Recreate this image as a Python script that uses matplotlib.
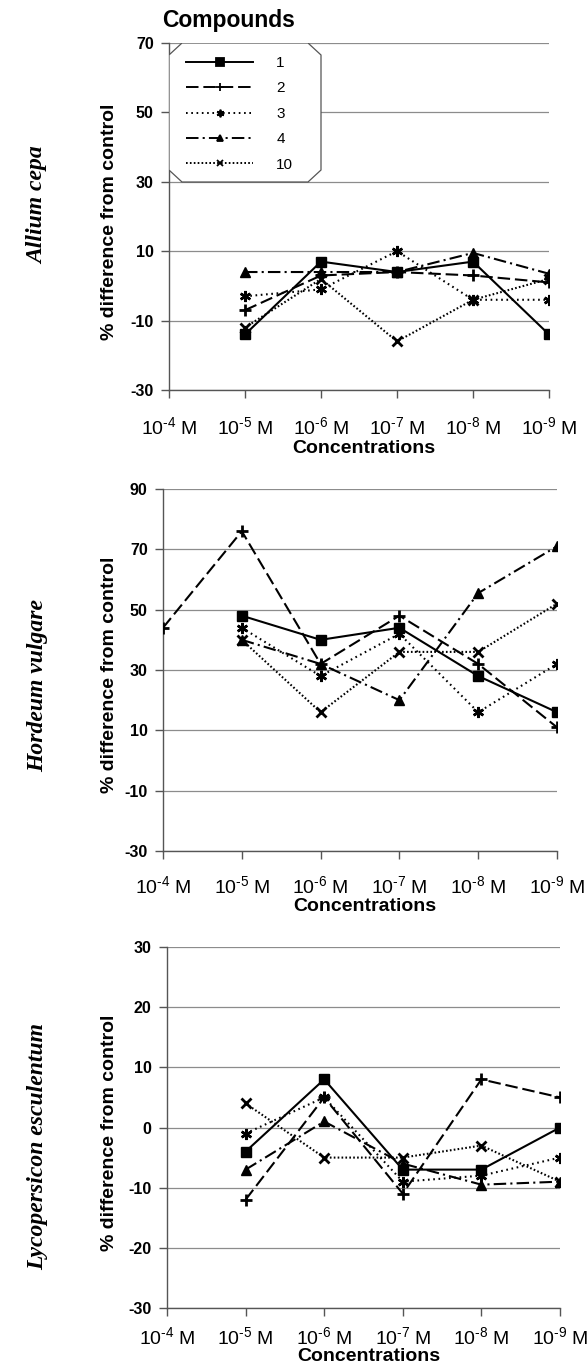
import matplotlib
matplotlib.use('Agg')
import matplotlib.pyplot as plt
from matplotlib.lines import Line2D
from matplotlib.patches import Polygon
import numpy as np

plt.rcParams['font.family'] = ['Liberation Sans', 'DejaVu Sans']
plt.rcParams['mathtext.fontset'] = 'custom'
plt.rcParams['mathtext.rm'] = 'Liberation Sans'
plt.rcParams['mathtext.it'] = 'Liberation Sans:italic'
plt.rcParams['mathtext.bf'] = 'Liberation Sans:bold'
plt.rcParams['axes.unicode_minus'] = False
plt.rcParams['lines.scale_dashes'] = False

nan = np.nan

# x axis categories
concentrations = ['10$^{\\text{-4}}$ M', '10$^{\\text{-5}}$ M', '10$^{\\text{-6}}$ M',
                  '10$^{\\text{-7}}$ M', '10$^{\\text{-8}}$ M', '10$^{\\text{-9}}$ M']
compounds = ['1', '2', '3', '4', '10']

# Allium cepa
allium_1 = [nan, -14, 7, 4, 7, -14]
allium_2 = [nan, -7, 3, 4, 3, 1]
allium_3 = [nan, -3, -1, 10, -4, -4]
allium_4 = [nan, 4, 4, 4, 9.5, 3.5]
allium_10 = [nan, -12, 2, -16, -4, 2]
allium_ticks = [-30, -10, 10, 30, 50, 70]

# Hordeum vulgare
hordeum_1 = [nan, 48, 40, 44, 28, 16]
hordeum_2 = [44, 76, 32, 48, 32, 11]
hordeum_3 = [nan, 44, 28, 42, 16, 32]
hordeum_4 = [nan, 40, 32, 20, 55.5, 71]
hordeum_10 = [nan, 40, 16, 36, 36, 52]
hordeum_ticks = [-30, -10, 10, 30, 50, 70, 90]

# Lycopersicon esculentum
lyco_1 = [nan, -4, 8, -7, -7, 0]
lyco_2 = [nan, -12, 5, -11, 8, 5]
lyco_3 = [nan, -1, 5, -9, -8, -5]
lyco_4 = [nan, -7, 1, -6, -9.5, -9]
lyco_10 = [nan, 4, -5, -5, -3, -9]
lyco_ticks = [-30, -20, -10, 0, 10, 20, 30]

W, H = 587, 1372
fig = plt.figure(figsize=(W / 100, H / 100), dpi=100)

styles = {
    '1': dict(ls='-', marker='s', ms=7.5, mew=1),
    '2': dict(ls=(0, (9, 3.5)), marker='+', ms=8.5, mew=2),
    '3': dict(ls=(0, (1.2, 2.6)), marker=(6, 2, 0), ms=8, mew=1.8),
    '4': dict(ls=(0, (9, 3, 1.5, 3)), marker='^', ms=7, mew=1),
    '10': dict(ls=(0, (1.2, 1.6)), marker='x', ms=7, mew=2),
}
legend_ms = {'1': 5.5, '2': 5.5, '3': 5.5, '4': 4.5, '10': 4.5}


def px_axes(left, right, top, bottom):
    return fig.add_axes([left / W, 1 - bottom / H, (right - left) / W, (bottom - top) / H])


panels = [
    dict(box=(169, 549, 43, 390), series=[allium_1, allium_2, allium_3, allium_4, allium_10],
         ticks=allium_ticks, name='Allium cepa', name_y=205, xlab_y=440, xpad=13),
    dict(box=(163, 557, 489, 851), series=[hordeum_1, hordeum_2, hordeum_3, hordeum_4, hordeum_10],
         ticks=hordeum_ticks, name='Hordeum vulgare', name_y=685, xlab_y=898, xpad=11.5),
    dict(box=(167, 560, 947, 1308), series=[lyco_1, lyco_2, lyco_3, lyco_4, lyco_10],
         ticks=lyco_ticks, name='Lycopersicon esculentum', name_y=1147, xlab_y=1348, xpad=7),
]

x = np.arange(len(concentrations))
for i, p in enumerate(panels):
    l, r, t, b = p['box']
    ax = px_axes(l, r, t, b)
    for name, vals in zip(compounds, p['series']):
        st = styles[name]
        ax.plot(x, vals, color='black', lw=1.5, ls=st['ls'], marker=st['marker'],
                ms=st['ms'], mew=st['mew'], mec='black', mfc='black', zorder=3)
    ax.set_xlim(0, 5)
    ax.set_ylim(p['ticks'][0], p['ticks'][-1])
    ax.set_yticks(p['ticks'])
    ax.set_xticks(x)
    ax.set_xticklabels(concentrations, fontsize=14)
    for lab in ax.get_yticklabels():
        lab.set_fontweight('bold')
        lab.set_fontsize(11.5)
    ax.yaxis.grid(True, color='#8c8c8c', lw=0.9)
    ax.set_axisbelow(True)
    for s in ['top', 'right']:
        ax.spines[s].set_visible(False)
    for s in ['left', 'bottom']:
        ax.spines[s].set_color('#555555')
        ax.spines[s].set_linewidth(1.0)
    ax.tick_params(axis='both', direction='out', length=6, width=1, color='#555555')
    ax.tick_params(axis='y', pad=5)
    ax.tick_params(axis='x', pad=p['xpad'])
    ax.set_ylabel('% difference from control', fontsize=14, fontweight='bold')
    ax.yaxis.set_label_coords(118 / W, 1 - ((t + b) / 2 + 5) / H, transform=fig.transFigure)
    ax.set_xlabel('Concentrations', fontsize=14, fontweight='bold')
    ax.xaxis.set_label_coords(((l + r) / 2 + 5) / W, 1 - p['xlab_y'] / H, transform=fig.transFigure)
    fig.text(38 / W, 1 - p['name_y'] / H, p['name'], rotation=90, ha='center', va='center',
             family='Liberation Serif', style='italic', fontweight='bold', fontsize=17)

    if i == 0:
        aw, ah = r - l, b - t
        x1 = (321 - l) / aw
        y0 = 1 - (182 - t) / ah
        cx, cy = 13 / aw, 12 / ah
        poly = Polygon([(0, 1 - cy), (cx, 1), (x1 - cx, 1), (x1, 1 - cy), (x1, y0 + cy),
                        (x1 - cx, y0), (cx, y0), (0, y0 + cy)], closed=True,
                       transform=ax.transAxes, facecolor='white', edgecolor='#555555',
                       lw=0.9, zorder=4)
        ax.add_patch(poly)
        handles = []
        for name in compounds:
            st = styles[name]
            handles.append(Line2D([], [], color='black', lw=1.4, ls=st['ls'], marker=st['marker'],
                                  ms=legend_ms[name], mew=1.3, mfc='black', mec='black'))
        leg = ax.legend(handles, compounds, loc='upper left',
                        bbox_to_anchor=((186 - l) / aw, 1 - (56 - t) / ah),
                        frameon=False, fontsize=11, handlelength=4.4, handletextpad=1.5,
                        labelspacing=0.75, borderpad=0, borderaxespad=0)
        leg.set_zorder(5)

fig.text(162 / W, 1 - 20 / H, 'Compounds', ha='left', va='center', fontsize=16.5, fontweight='bold')

fig.savefig('out.png', dpi=100)
